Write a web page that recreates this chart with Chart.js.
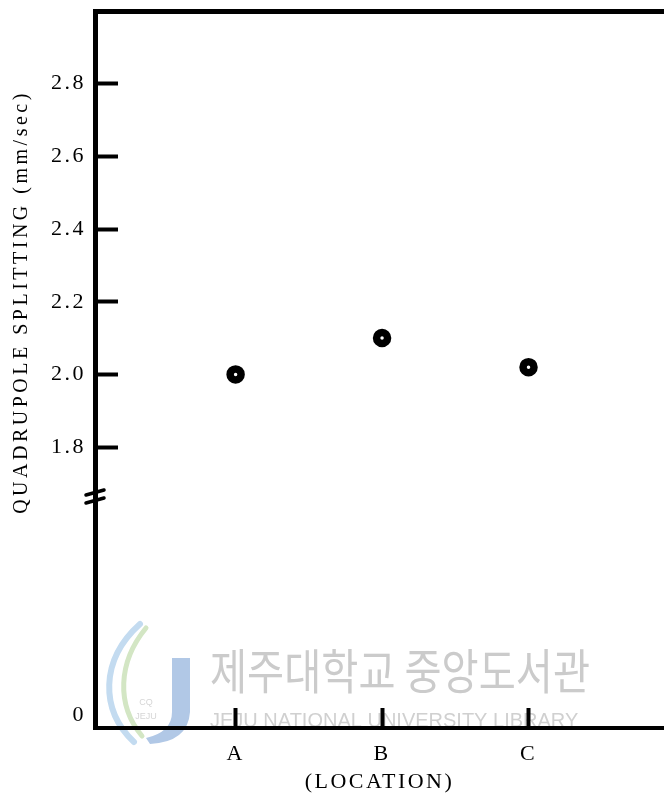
<!DOCTYPE html>
<html><head><meta charset="utf-8">
<script src="https://cdn.jsdelivr.net/npm/chart.js@4.4.1/dist/chart.umd.min.js"></script>
<style>html,body{margin:0;padding:0;background:#fff;overflow:hidden}#wrap{width:664px;height:800px;position:relative}</style>
</head><body><div id="wrap"><canvas id="c" width="664" height="800"></canvas></div>
<script>
// ---- data ----
const locations = ['A', 'B', 'C'];
const locationIndex = [1, 2, 3];
const splitting = [2.00, 2.10, 2.02];
const yTickValues = [1.8, 2.0, 2.2, 2.4, 2.6, 2.8];
const yZeroLabel = '0';
const yAxisBottom = 1.027;   // broken axis: value shown at the bottom, labelled "0"
const yAxisTop = 3.0;
const yBreakValue = 1.66;
const xAxisMin = 0.04, xAxisMax = 3.925;
const yTitle = 'QUADRUPOLE SPLITTING (mm/sec)';
const xTitle = '(LOCATION)';
const watermarkKo = '제주대학교 중앙도서관';
const watermarkEn = 'JEJU NATIONAL UNIVERSITY LIBRARY';

const SERIF = '"Liberation Serif", "Times New Roman", serif';

function noPad(s) { s.paddingTop = 0; s.paddingBottom = 0; s.paddingLeft = 0; s.paddingRight = 0; }

const decorPlugin = {
  id: 'decor',
  beforeUpdate(chart) { chart.ctx.letterSpacing = '2.5px'; },
  beforeDraw(chart) {
    const ctx = chart.ctx;
    ctx.save();
    ctx.letterSpacing = '0px';
    // watermark logo (faint)
    ctx.lineCap = 'round';
    ctx.strokeStyle = '#c3dbf0'; ctx.lineWidth = 6;
    ctx.beginPath(); ctx.moveTo(140, 624); ctx.bezierCurveTo(100, 660, 100, 710, 134, 742); ctx.stroke();
    ctx.strokeStyle = '#d3e6c4'; ctx.lineWidth = 5;
    ctx.beginPath(); ctx.moveTo(146, 628); ctx.bezierCurveTo(118, 662, 116, 705, 142, 736); ctx.stroke();
    ctx.fillStyle = '#b1c8e6';
    ctx.beginPath(); ctx.moveTo(172, 658); ctx.lineTo(190, 658); ctx.lineTo(190, 712);
    ctx.quadraticCurveTo(188, 742, 150, 744); ctx.lineTo(146, 738); ctx.quadraticCurveTo(172, 732, 172, 712); ctx.closePath(); ctx.fill();
    ctx.fillStyle = '#d6d6d6'; ctx.font = '9px "Liberation Sans"'; ctx.textAlign = 'center';
    ctx.fillText('CQ', 146, 705); ctx.fillText('JEJU', 146, 719);
    // watermark text
    ctx.textAlign = 'left';
    ctx.fillStyle = '#cbcbcb';
    ctx.textBaseline = 'middle';
    ctx.font = '48px "Noto Sans CJK KR"';
    ctx.fillText(watermarkKo, 210, 671, 380);
    ctx.fillStyle = '#d0d0d0';
    ctx.textBaseline = 'alphabetic';
    ctx.font = '20px "Liberation Sans"';
    ctx.fillText(watermarkEn, 210, 727, 375);
    ctx.restore();
    ctx.letterSpacing = '2.5px';
  },
  afterDraw(chart) {
    const ctx = chart.ctx;
    const ys = chart.scales.y;
    const left = chart.chartArea.left;
    // axis break mark
    const yb = ys.getPixelForValue(yBreakValue);
    ctx.save();
    ctx.strokeStyle = '#000'; ctx.lineWidth = 3.5; ctx.lineCap = 'round';
    ctx.beginPath(); ctx.moveTo(left - 9, yb - 3); ctx.lineTo(left + 9, yb - 8); ctx.stroke();
    ctx.beginPath(); ctx.moveTo(left - 9, yb + 5); ctx.lineTo(left + 9, yb); ctx.stroke();
    // y-axis title
    ctx.translate(22, 302);
    ctx.rotate(-Math.PI / 2);
    ctx.font = '20px ' + SERIF;
    ctx.letterSpacing = '3.5px';
    ctx.textAlign = 'center'; ctx.textBaseline = 'middle';
    ctx.fillStyle = '#000';
    ctx.fillText(yTitle, 0, 0);
    ctx.restore();
  }
};

new Chart(document.getElementById('c'), {
  type: 'scatter',
  data: {
    datasets: [{
      data: locationIndex.map((x, i) => ({ x: x, y: splitting[i] })),
      pointRadius: 5.5,
      pointHoverRadius: 5.5,
      pointBorderWidth: 7.5,
      pointBorderColor: '#000',
      pointBackgroundColor: '#fff',
      showLine: false
    }]
  },
  options: {
    responsive: false,
    animation: false,
    events: [],
    layout: { padding: 0, autoPadding: false },
    plugins: { legend: { display: false }, tooltip: { enabled: false } },
    scales: {
      x: {
        type: 'linear', position: 'bottom',
        min: xAxisMin, max: xAxisMax,
        afterBuildTicks: s => { s.ticks = locationIndex.map(v => ({ value: v })); },
        afterFit: s => { s.height = 72; noPad(s); },
        ticks: {
          callback: v => locations[locationIndex.indexOf(v)] ?? '',
          font: { family: SERIF, size: 22 }, color: '#000',
          padding: 33, maxRotation: 0, autoSkip: false
        },
        grid: { display: true, drawOnChartArea: false, drawTicks: true, tickLength: -20, tickWidth: 4, tickColor: '#000' },
        border: { display: true, color: '#000', width: 4 },
        title: { display: true, text: xTitle, font: { family: SERIF, size: 22 }, color: '#000', padding: { top: 0, bottom: 5 } }
      },
      xTop: {
        type: 'linear', position: 'top',
        min: xAxisMin, max: xAxisMax,
        afterFit: s => { s.height = 11; noPad(s); },
        ticks: { display: false },
        grid: { display: false, drawTicks: false },
        border: { display: true, color: '#000', width: 5 }
      },
      y: {
        type: 'linear', position: 'left',
        min: yAxisBottom, max: yAxisTop,
        afterBuildTicks: s => { s.ticks = [yAxisBottom, ...yTickValues].map(v => ({ value: v })); },
        afterFit: s => { s.width = 95; noPad(s); },
        ticks: {
          callback: v => v === yAxisBottom ? [yZeroLabel, ''] : v.toFixed(1),
          font: { family: SERIF, size: 22 }, color: '#000',
          padding: 32, autoSkip: false
        },
        grid: {
          display: true, drawOnChartArea: false, drawTicks: true, tickLength: -23, tickWidth: 4,
          tickColor: c => (c.tick && c.tick.value === yAxisBottom) ? 'rgba(0,0,0,0)' : '#000'
        },
        border: { display: true, color: '#000', width: 5 }
      }
    }
  },
  plugins: [decorPlugin]
});
</script>
</body></html>
